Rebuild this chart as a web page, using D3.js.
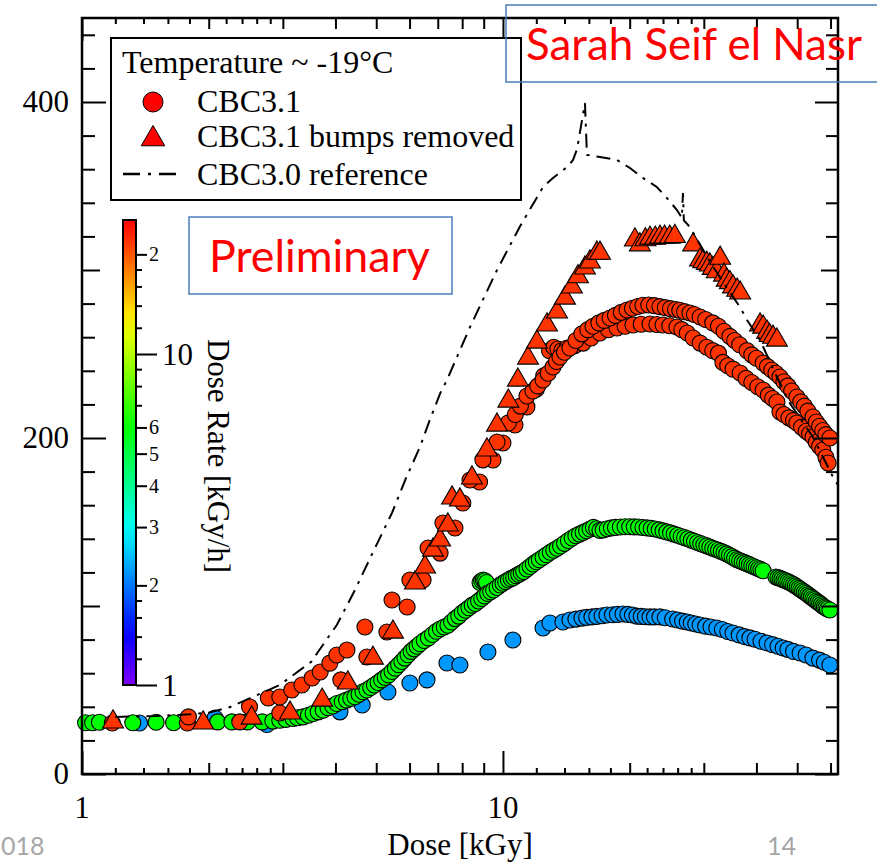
<!DOCTYPE html>
<html>
<head>
<meta charset="utf-8">
<script src="https://d3js.org/d3.v7.min.js"></script>
<style>
body { margin: 0; background: #fff; }
text { font-family: "Liberation Serif", "Times New Roman", serif; fill: #000; }
.sans { font-family: Lato, "Open Sans", sans-serif; }
</style>
</head>
<body>
<svg id="chart" width="877" height="863"></svg>
<script>
// ---- data: [dose kGy, value] ----
var greenRate = 6, blueRate = 2.2, redRate = 22

var greenPts = [[1.02,30.5],[1.06,30.5],[1.1,30.8],[1.32,30.5],[1.5,30.8],[1.65,30.5],[2.1,31],[2.27,31],[2.47,31],[2.68,31],[2.84,31.5],[2.95,32],[3.05,32.5],[3.17,33],[3.25,33.5],[3.35,34],[3.45,35],[3.54,36],[3.64,37],[3.74,38],[3.84,39.5],[3.94,40.5],[4.03,42],[4.15,43],[4.25,44],[4.35,45],[4.45,46],[4.55,47.5],[4.65,49],[4.75,50],[4.85,51.5],[4.95,53],[5.05,54.5],[5.15,56],[5.25,57.5],[5.35,59],[5.45,61],[5.55,63],[5.65,65],[5.75,67],[5.85,69],[5.95,71],[6.05,73],[6.15,74.5],[6.25,76],[6.35,77.5],[6.5,79.5],[6.65,81],[6.8,83],[6.95,85],[7.1,86.5],[7.25,87.5],[7.4,88.5],[7.55,90.5],[7.7,92.5],[7.85,94],[8.0,96],[8.15,97.5],[8.3,99],[8.45,100.5],[8.6,101.5],[8.75,103],[8.82,114],[8.9,115],[8.98,115.5],[9.06,115],[9.14,114],[8.9,104.5],[9.05,106],[9.2,107.5],[9.35,108.5],[9.5,109.5],[9.68,111],[9.85,112.5],[10.0,113.5],[10.15,114.5],[10.3,115.5],[10.45,116.3],[10.6,117],[10.75,118],[10.9,118.8],[11.05,119.6],[11.2,120.5],[11.4,122],[11.6,123.5],[11.8,125],[12.0,126.3],[12.2,127.5],[12.45,129],[12.7,130.5],[12.95,132],[13.2,133.2],[13.45,134.4],[13.7,135.7],[14.0,137.3],[14.3,139],[14.6,140.5],[14.9,141.8],[15.2,142.8],[15.5,143.8],[15.8,144.8],[16.1,145.8],[16.4,146.8],[16.7,146],[17.0,145],[17.3,145.3],[17.7,146],[18.1,146.5],[18.5,146.8],[19.0,147],[19.5,147.2],[20.0,147.2],[20.5,147.1],[21.0,147],[21.5,146.7],[22.0,146.5],[22.5,146.2],[23.0,145.8],[23.5,145.3],[24.0,144.7],[24.5,144.1],[25.0,143.5],[25.5,142.8],[26.0,142.1],[26.5,141.4],[27.0,140.7],[27.5,140],[28.0,139.2],[28.5,138.5],[29.0,137.8],[29.5,137.1],[30.0,136.5],[30.5,135.8],[31.0,135.1],[31.5,134.4],[32.0,133.8],[32.5,133.2],[33.0,132.5],[33.5,131.8],[34.0,131],[34.5,130.2],[35.0,129.4],[35.5,128.5],[36.0,127.6],[36.5,127],[37.0,126.4],[37.5,125.8],[38.0,125.2],[38.5,124.6],[39.0,124],[39.5,123.4],[40.0,122.8],[40.5,122.2],[41.0,121.6],[41.5,121],[44.5,117.3],[45.0,116.9],[45.5,116.5],[46.0,116],[46.5,115.5],[47.0,115],[47.5,114.5],[48.0,114],[48.5,113.4],[49.0,112.7],[49.5,112],[50.0,111.3],[50.5,110.5],[51.0,109.8],[51.5,109],[52.0,108.3],[52.5,107.6],[53.0,106.8],[53.5,106],[54.0,105.3],[54.5,104.5],[55.0,103.8],[55.5,103],[56.0,102.3],[56.5,101.6],[57.0,100.8],[57.5,100],[58.0,99.4],[58.5,98.8],[59.0,98.2],[59.8,97.6]]

var bluePts = [[1.37,30.4],[2.07,33.3],[2.75,29.5],[4.1,37],[4.63,41.1],[5.33,48.8],[6.01,54.2],[6.6,56],[7.36,66.1],[7.9,64.9],[9.21,72.6],[10.56,79.8],[12.45,86.9],[12.93,89.9],[13.88,90.5],[14.42,91.7],[14.9,92.2],[15.4,92.8],[15.8,93.2],[16.27,93.5],[16.7,93.8],[17.2,94.2],[17.66,94.6],[18.2,94.8],[18.7,95],[19.28,95.2],[19.8,95],[20.3,94.6],[20.81,94],[21.3,93.8],[21.8,93.6],[22.35,93.5],[22.9,93.5],[23.6,93.5],[24.3,93],[25.3,92.3],[26.0,91.7],[26.7,91],[27.4,90.5],[28.0,89.9],[28.7,89.3],[29.4,88.7],[30.3,88],[31.2,87.5],[32.2,86.9],[33.2,86],[34.2,84.8],[35.2,83.9],[36.4,82.8],[37.5,81.8],[38.6,81],[39.7,80.2],[41.0,79],[42.4,78],[43.7,77],[45.0,76],[46.3,75],[47.5,74.2],[49.0,73],[50.8,72],[52.5,70.8],[54.5,69],[56.5,67.8],[58.0,66.5],[59.8,64.9]]

var red1Pts = [[1.79,34],[2.5,40],[2.77,45.2],[2.95,45.8],[3.15,50],[3.33,53],[3.52,57.1],[3.68,60.7],[3.88,66],[4.03,70.8],[4.26,73.8],[4.7,87.5],[5.45,103.6],[6.01,115.5],[6.64,134.5],[7.2,149.4],[8.03,161.3],[8.35,175],[8.96,187],[9.68,197.6],[10.3,209],[10.7,214],[11.0,219],[11.4,225],[11.78,228],[12.1,231],[12.45,234.5],[12.8,238.5],[13.15,242.3],[13.4,245.5],[13.66,248.2],[14.0,251],[14.42,253.6],[14.9,258],[15.4,262],[15.9,264.5],[16.36,266.5],[16.9,268.5],[17.4,270],[17.96,271.4],[18.5,273],[19.1,274.8],[19.71,276.2],[20.3,277.2],[20.9,278.3],[21.5,279],[22.2,279.2],[22.9,278.8],[23.6,278.2],[24.3,277.6],[25.0,277],[25.7,276.5],[26.3,276],[27.0,275.2],[27.8,274.4],[28.5,273.5],[29.4,272],[30.3,270.5],[31.5,268.5],[32.5,266.5],[33.5,263.5],[34.6,260.5],[35.5,258],[36.5,255.5],[38.0,252],[39.0,249.5],[40.0,247.5],[41.5,244.6],[42.5,242.5],[43.5,240.5],[44.5,238.5],[45.5,236.3],[46.5,233.5],[47.5,231],[48.5,228],[49.9,224.4],[51.0,221.5],[52.0,219],[53.0,216],[54.5,212.5],[55.5,209.5],[56.5,207],[57.5,204.5],[58.5,202],[59.8,200]]

var red2Pts = [[1.18,30.4],[1.78,30.4],[2.37,31],[2.95,36.3],[4.12,56],[4.75,69.6],[5.3,84.5],[5.92,99.4],[6.46,115.5],[7.09,131.5],[7.69,146.4],[8.8,173.8],[9.47,186.9],[10.0,197],[10.68,207.7],[11.4,218.5],[12.0,229],[12.5,237],[12.9,252],[13.2,254],[13.5,253],[13.8,252],[14.2,253.6],[14.8,255],[15.5,256.5],[16.2,259.5],[17.0,262.5],[17.8,264.5],[18.66,265.5],[19.5,266.5],[20.36,267.3],[21.3,267.7],[22.35,267.9],[23.2,267.6],[24.0,267.3],[24.9,266.8],[25.9,266.1],[26.6,264.5],[27.4,262.5],[28.3,259.5],[29.4,256.5],[30.5,254],[31.5,252],[32.5,250.5],[33.3,245],[34.2,243],[35.2,241],[36.6,238.7],[37.8,235.5],[39.0,233],[40.3,230.5],[41.5,228.6],[42.7,225.5],[43.7,223.5],[44.75,221.4],[45.5,215.5],[46.5,214],[47.8,212],[49.0,210.5],[49.9,208.9],[51.2,206.5],[52.5,204],[53.5,202.5],[54.5,200.6],[55.5,197.5],[56.5,195],[57.5,192.9],[58.5,188.5],[59.2,185.1]]

var triPts = [[1.185,31],[1.94,30.4],[2.53,33.3],[3.12,36.3],[3.72,44],[4.28,54.2],[4.91,69],[5.48,84.5],[6.18,113.7],[6.53,123.2],[6.82,133.3],[7.09,139.3],[7.4,148.2],[7.57,164.3],[7.9,163.1],[8.44,176.2],[9.16,192.9],[9.68,207.7],[10.3,222],[10.85,234.5],[11.47,247.6],[12.04,257.1],[12.72,267.3],[13.44,275],[14.04,283.3],[14.58,289.9],[15.07,296],[15.66,301.2],[16.09,304.8],[16.72,310.1],[17.0,310],[20.58,317.9],[21.15,315],[21.8,318],[22.35,319],[23.0,319],[23.6,319.6],[24.2,319.6],[24.9,319.6],[25.6,320],[28.3,315],[29.4,306],[29.9,305],[30.5,304],[31.0,303],[31.5,301],[32.2,299],[32.8,307],[33.5,297],[34.0,294],[34.6,292.5],[35.2,290],[36.0,288],[36.6,286.3],[40.8,267.3],[41.5,266],[42.4,263],[43.0,261],[43.8,260],[44.75,258.3]]

var refPts = [[1.2,34],[1.5,34.5],[1.8,35.5],[2.0,36.5],[2.25,39.9],[2.5,45],[2.95,53],[3.5,66.7],[4.03,88.7],[4.45,109.5],[4.9,131.5],[5.45,155.4],[5.9,176.8],[6.35,194.6],[6.7,210.7],[7.1,226.8],[7.36,234.5],[8.35,266],[9.68,300],[10.98,326],[12.45,349.4],[13.15,354.8],[14.2,361.3],[14.67,365.5],[15.0,372],[15.66,399.4],[15.83,368.5],[17.0,367.3],[18.66,365.5],[20.03,360.7],[21.5,354.8],[23.2,349.4],[24.5,342.9],[25.9,335.7],[26.6,331],[26.77,345.8],[26.9,329.5],[27.8,325.6],[31.0,305],[33.5,292],[36.56,278],[38.0,270.2],[40.8,258.3],[44.75,236.3],[48.0,220.8],[54.5,200.6],[60.8,176.8],[62.5,172]]

// ticks
var xMajor = [1, 10]
var xMedium = [2, 3, 4, 5, 6, 7, 8, 9, 20, 30, 40, 50, 60]
var xMinor = [1.2, 1.4, 1.6, 1.8, 2.2, 2.4, 2.6, 2.8, 12, 14, 16, 18, 22, 24, 26, 28]
var yMajor = [0, 200, 400]
var yMedium = [100, 300]
var yMinor = [20, 40, 60, 80, 120, 140, 160, 180, 220, 240, 260, 280, 320, 340, 360, 380, 420, 440]
var cbMajor = [1, 10]
var cbLabeled = [2, 3, 4, 5, 6, 20]
var cbMinor = [1.2, 1.4, 1.6, 1.8, 7, 8, 9, 12, 14, 16, 18]
var legendLabels = ["Temperature ~ -19°C", "CBC3.1", "CBC3.1 bumps removed", "CBC3.0 reference"]

var svg = d3.select("#chart")

var x = d3.scaleLog().domain([1, 62.5]).range([82, 838])
var y = d3.scaleLinear().domain([0, 450]).range([774, 18])
var rateMax = 25.4
var cb = d3.scaleLog().domain([1, rateMax]).range([685, 220])

function rateColor(v) {
    var t = Math.log(v) / Math.log(rateMax)
    return d3.hsl(270 * (1 - t), 1, 0.5).toString()
}

var dash = "14,7,3,7"

// ---- data ----
function circles(pts, rate) {
    svg.append("g").selectAll("circle")
        .data(pts)
        .enter()
        .append("circle")
        .attr("cx", function(d) { return x(d[0]) })
        .attr("cy", function(d) { return y(d[1]) })
        .attr("r", 8)
        .attr("fill", rateColor(rate))
        .attr("stroke", "#000")
        .attr("stroke-width", 1.1)
}
circles(bluePts, blueRate)
circles(greenPts, greenRate)
circles(red2Pts, redRate)
circles(red1Pts, redRate)

var tri = d3.symbol().type(d3.symbolTriangle).size(190)
svg.append("g").selectAll("path")
    .data(triPts)
    .enter()
    .append("path")
    .attr("d", tri)
    .attr("transform", function(d) { return "translate(" + x(d[0]) + "," + y(d[1]) + ")" })
    .attr("fill", rateColor(redRate))
    .attr("stroke", "#000")
    .attr("stroke-width", 1.1)

var line = d3.line().x(function(d) { return x(d[0]) }).y(function(d) { return y(d[1]) })
svg.append("path")
    .datum(refPts)
    .attr("d", line)
    .attr("fill", "none")
    .attr("stroke", "#000")
    .attr("stroke-width", 2)
    .attr("stroke-dasharray", dash)

// ---- frame + ticks ----
function tickAxis(fn, scale, vals, len, tr) {
    svg.append("g")
        .attr("transform", tr)
        .call(fn(scale).tickValues(vals).tickSizeInner(len).tickSizeOuter(0).tickFormat(""))
        .call(function(g) { g.select(".domain").remove() })
        .selectAll("line").attr("stroke-width", 2)
}
tickAxis(d3.axisBottom, x, xMinor, -6, "translate(0,774)")
tickAxis(d3.axisBottom, x, xMedium, -11, "translate(0,774)")
tickAxis(d3.axisBottom, x, xMajor, -23, "translate(0,774)")
tickAxis(d3.axisTop, x, xMinor, -6, "translate(0,18)")
tickAxis(d3.axisTop, x, xMedium, -11, "translate(0,18)")
tickAxis(d3.axisTop, x, xMajor, -23, "translate(0,18)")
tickAxis(d3.axisLeft, y, yMinor, -13, "translate(82,0)")
tickAxis(d3.axisLeft, y, yMedium, -18, "translate(82,0)")
tickAxis(d3.axisLeft, y, yMajor, -24, "translate(82,0)")
tickAxis(d3.axisRight, y, yMinor, -12, "translate(838,0)")
tickAxis(d3.axisRight, y, yMedium, -17, "translate(838,0)")
tickAxis(d3.axisRight, y, yMajor, -23, "translate(838,0)")

svg.append("rect")
    .attr("x", 82).attr("y", 18).attr("width", 756).attr("height", 756)
    .attr("fill", "none").attr("stroke", "#000").attr("stroke-width", 2.5)

svg.selectAll(".xlab")
    .data(xMajor)
    .enter()
    .append("text")
    .attr("x", function(d) { return x(d) })
    .attr("y", 818)
    .attr("text-anchor", "middle")
    .attr("font-size", 31)
    .text(function(d) { return d })

svg.selectAll(".ylab")
    .data(yMajor)
    .enter()
    .append("text")
    .attr("x", 69)
    .attr("y", function(d) { return y(d) + 10 })
    .attr("text-anchor", "end")
    .attr("font-size", 31)
    .text(function(d) { return d })

svg.append("text")
    .attr("x", 460).attr("y", 855)
    .attr("text-anchor", "middle")
    .attr("font-size", 31)
    .text("Dose [kGy]")

// ---- colour bar ----
var grad = svg.append("defs").append("linearGradient")
    .attr("id", "rainbow")
    .attr("x1", 0).attr("y1", 1).attr("x2", 0).attr("y2", 0)
grad.selectAll("stop")
    .data(d3.range(0, 1.0001, 0.05))
    .enter()
    .append("stop")
    .attr("offset", function(t) { return t })
    .attr("stop-color", function(t) { return rateColor(Math.pow(rateMax, t)) })

svg.append("rect")
    .attr("x", 123).attr("y", 220).attr("width", 13).attr("height", 465)
    .attr("fill", "url(#rainbow)").attr("stroke", "#000").attr("stroke-width", 2)

tickAxis(d3.axisRight, cb, cbMinor, 6, "translate(136,0)")
tickAxis(d3.axisRight, cb, cbLabeled, 11, "translate(136,0)")
tickAxis(d3.axisRight, cb, cbMajor, 21, "translate(136,0)")

svg.selectAll(".cbsmall")
    .data(cbLabeled)
    .enter()
    .append("text")
    .attr("x", 149)
    .attr("y", function(d) { return cb(d) + 7 })
    .attr("font-size", 20)
    .text(function(d) { return String(d).charAt(0) })

svg.selectAll(".cbbig")
    .data(cbMajor)
    .enter()
    .append("text")
    .attr("x", 162)
    .attr("y", function(d) { return cb(d) + 11 })
    .attr("font-size", 31)
    .text(function(d) { return d })

svg.append("text")
    .attr("transform", "translate(208,456) rotate(90)")
    .attr("text-anchor", "middle")
    .attr("font-size", 31)
    .text("Dose Rate [kGy/h]")

// ---- legend ----
svg.append("rect")
    .attr("x", 111).attr("y", 38).attr("width", 410).attr("height", 162)
    .attr("fill", "#fff").attr("stroke", "#000").attr("stroke-width", 2)

svg.selectAll(".leg")
    .data(legendLabels)
    .enter()
    .append("text")
    .attr("x", function(d, i) { return i == 0 ? 122 : 197 })
    .attr("y", function(d, i) { return [73, 112, 147, 185][i] })
    .attr("font-size", 32)
    .text(function(d) { return d })

svg.append("circle")
    .attr("cx", 153).attr("cy", 102).attr("r", 10)
    .attr("fill", "#ff0000").attr("stroke", "#000").attr("stroke-width", 1)
svg.append("path")
    .attr("d", d3.symbol().type(d3.symbolTriangle).size(240))
    .attr("transform", "translate(153,139)")
    .attr("fill", "#ff0000").attr("stroke", "#000").attr("stroke-width", 1)
svg.append("line")
    .attr("x1", 123).attr("x2", 183).attr("y1", 174).attr("y2", 174)
    .attr("stroke", "#000").attr("stroke-width", 2.5)
    .attr("stroke-dasharray", "17,8,3,8")

// ---- slide annotations ----
function fit(sel, w) {
    var len = sel.node().getComputedTextLength()
    sel.attr("font-size", parseFloat(sel.attr("font-size")) * w / len)
}

svg.append("rect")
    .attr("x", 189).attr("y", 217).attr("width", 263).attr("height", 77)
    .attr("fill", "none").attr("stroke", "#4a7ebb").attr("stroke-width", 1.5)
var prel = svg.append("text").attr("class", "sans")
    .attr("x", 209).attr("y", 272).attr("font-size", 38)
    .style("fill", "#ff0000").text("Preliminary")
fit(prel, 221)

svg.append("rect")
    .attr("x", 506).attr("y", 5).attr("width", 400).attr("height", 77)
    .attr("fill", "none").attr("stroke", "#4a7ebb").attr("stroke-width", 1.5)
var sarah = svg.append("text").attr("class", "sans")
    .attr("x", 526).attr("y", 60).attr("font-size", 40)
    .style("fill", "#ff0000").text("Sarah Seif el Nasr")
fit(sarah, 336)

svg.append("text").attr("class", "sans")
    .attr("x", 1).attr("y", 855).attr("font-size", 25)
    .style("fill", "#a6a6a6").text("018")
svg.append("text").attr("class", "sans")
    .attr("x", 767).attr("y", 855).attr("font-size", 25)
    .style("fill", "#a6a6a6").text("14")
</script>
</body>
</html>
